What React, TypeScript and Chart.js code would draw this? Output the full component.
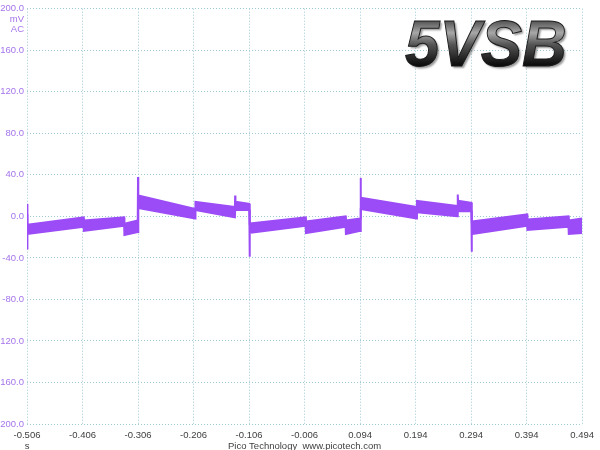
import React, { useEffect, useRef } from 'react';
import { Chart, registerables } from 'chart.js';

Chart.register(...registerables);

// ---- Data ----
// Time breakpoints (s) of the noisy trace, with the upper and lower edge of the noise band (mV)
const TIMES = [
  -0.506, -0.5055, -0.505, -0.404, -0.4035, -0.331, -0.3305, -0.3065, -0.306, -0.3055,
  -0.203, -0.2025, -0.1315, -0.131, -0.1305, -0.1055, -0.105, -0.1045,
  -0.004, -0.0035, 0.068, 0.0685, 0.0945, 0.095, 0.0955,
  0.196, 0.1965, 0.2695, 0.27, 0.2705, 0.2945, 0.295, 0.2955,
  0.395, 0.3955, 0.4695, 0.47, 0.494,
];
const UPPER = [
  12, 12, -8, -1, -4, -1, -7, -4, 38, 20,
  7, 14, 9, 20, 14, 12, 12, -7,
  -1, -5, 0, -4, -2, 37, 18,
  9, 15, 10, 21, 15, 13, 13, -5,
  2, -3, 0, -4, -2,
];
const LOWER = [
  2, -32, -17, -10, -14, -9, -18, -15, -15, 8,
  -2, 6, -1, 6, 6, 6, -39, -16,
  -9, -16, -10, -17, -14, -14, 7,
  -2, 4, 0, 5, 5, 5, -34, -17,
  -9, -13, -10, -17, -16,
];
const X_TICKS = [-0.506, -0.406, -0.306, -0.206, -0.106, -0.006, 0.094, 0.194, 0.294, 0.394, 0.494];
const X_MIN = -0.506;
const X_MAX = 0.494;
const Y_MIN = -200;
const Y_MAX = 200;
const Y_STEP = 40;
const Y_UNITS = ['mV', 'AC'];
const X_UNIT = 's';
const FOOTER = 'Pico Technology  www.picotech.com';
const BADGE = '5VSB';

// ---- Styles ----
const TRACE = '#9b4cf6';
const Y_TICK_COLOR = '#a575ea';
const X_TICK_COLOR = '#404040';
const GRID = '#9fcad4';
const FONT_FAMILY = '"Liberation Sans", Arial, sans-serif';
const FONT_SIZE = 9.5;

const overlayPlugin = {
  id: 'overlay',
  afterDraw(chart: any) {
    const { ctx, chartArea } = chart;
    ctx.save();
    ctx.font = `${FONT_SIZE}px ${FONT_FAMILY}`;
    ctx.fillStyle = Y_TICK_COLOR;
    ctx.textAlign = 'right';
    ctx.textBaseline = 'middle';
    Y_UNITS.forEach((u, i) => ctx.fillText(u, chartArea.left - 3, chartArea.top + 11 + i * 10));

    ctx.fillStyle = X_TICK_COLOR;
    ctx.textAlign = 'center';
    ctx.fillText(X_UNIT, chartArea.left, chart.height - 4);

    // badge
    ctx.font = `italic bold 65px ${FONT_FAMILY}`;
    ctx.textAlign = 'left';
    ctx.textBaseline = 'alphabetic';
    const m = ctx.measureText(BADGE);
    const w = m.actualBoundingBoxLeft + m.actualBoundingBoxRight;
    const sx = 160 / w;
    const baseY = chartArea.top + 57;
    ctx.translate(chartArea.left + 378, 0);
    ctx.scale(sx, 1);
    const g = ctx.createLinearGradient(0, baseY - 47, 0, baseY);
    g.addColorStop(0, '#444444');
    g.addColorStop(0.3, '#a8a8a8');
    g.addColorStop(0.55, '#555555');
    g.addColorStop(1, '#0a0a0a');
    ctx.shadowColor = 'rgba(0,0,0,0.4)';
    ctx.shadowOffsetX = 2;
    ctx.shadowOffsetY = 2;
    ctx.shadowBlur = 2;
    ctx.fillStyle = g;
    ctx.fillText(BADGE, m.actualBoundingBoxLeft, baseY);
    ctx.shadowColor = 'transparent';
    ctx.lineWidth = 1;
    ctx.strokeStyle = '#1a1a1a';
    ctx.strokeText(BADGE, m.actualBoundingBoxLeft, baseY);
    ctx.restore();
  },
};

export default function App() {
  const ref = useRef<HTMLCanvasElement | null>(null);

  useEffect(() => {
    if (!ref.current) return;
    const upper = TIMES.map((t, i) => ({ x: t, y: UPPER[i] }));
    const lower = TIMES.map((t, i) => ({ x: t, y: LOWER[i] }));
    const chart = new Chart(ref.current, {
      type: 'line',
      data: {
        datasets: [
          {
            label: 'upper',
            data: upper,
            borderColor: TRACE,
            borderWidth: 2,
            pointRadius: 0,
            tension: 0,
            fill: false,
          },
          {
            label: 'lower',
            data: lower,
            borderColor: TRACE,
            backgroundColor: TRACE,
            borderWidth: 2,
            pointRadius: 0,
            tension: 0,
            fill: '-1',
          },
        ],
      },
      options: {
        responsive: false,
        animation: false,
        devicePixelRatio: 1,
        layout: { padding: { top: 5, right: 13, left: 0, bottom: 0 } },
        plugins: {
          legend: { display: false },
          tooltip: { enabled: false },
          filler: { propagate: false },
        },
        scales: {
          x: {
            type: 'linear',
            min: X_MIN,
            max: X_MAX,
            afterBuildTicks: (s: any) => {
              s.ticks = X_TICKS.map((v) => ({ value: v }));
            },
            afterFit: (s: any) => {
              s.height = 26;
            },
            grid: { color: GRID, lineWidth: 1, drawTicks: false },
            border: { display: false, dash: [1, 2] },
            ticks: {
              autoSkip: false,
              maxRotation: 0,
              padding: 6,
              color: X_TICK_COLOR,
              font: { family: FONT_FAMILY, size: FONT_SIZE },
              callback: (v: any) => Number(v).toFixed(3),
            },
            title: {
              display: true,
              text: FOOTER,
              color: X_TICK_COLOR,
              font: { family: FONT_FAMILY, size: FONT_SIZE },
              padding: { top: 0, bottom: -2 },
            },
          },
          y: {
            type: 'linear',
            min: Y_MIN,
            max: Y_MAX,
            afterFit: (s: any) => {
              s.width = 27;
            },
            grid: { color: GRID, lineWidth: 1, drawTicks: false },
            border: { display: false, dash: [1, 2] },
            ticks: {
              stepSize: Y_STEP,
              padding: 3,
              color: Y_TICK_COLOR,
              font: { family: FONT_FAMILY, size: FONT_SIZE },
              callback: (v: any) => Number(v).toFixed(1),
            },
          },
        },
      },
      plugins: [overlayPlugin],
    });
    return () => chart.destroy();
  }, []);

  return (
    <div style={{ position: 'fixed', left: 0, top: 0, width: 600, height: 450, background: '#fff' }}>
      <canvas ref={ref} width={600} height={450} />
    </div>
  );
}
